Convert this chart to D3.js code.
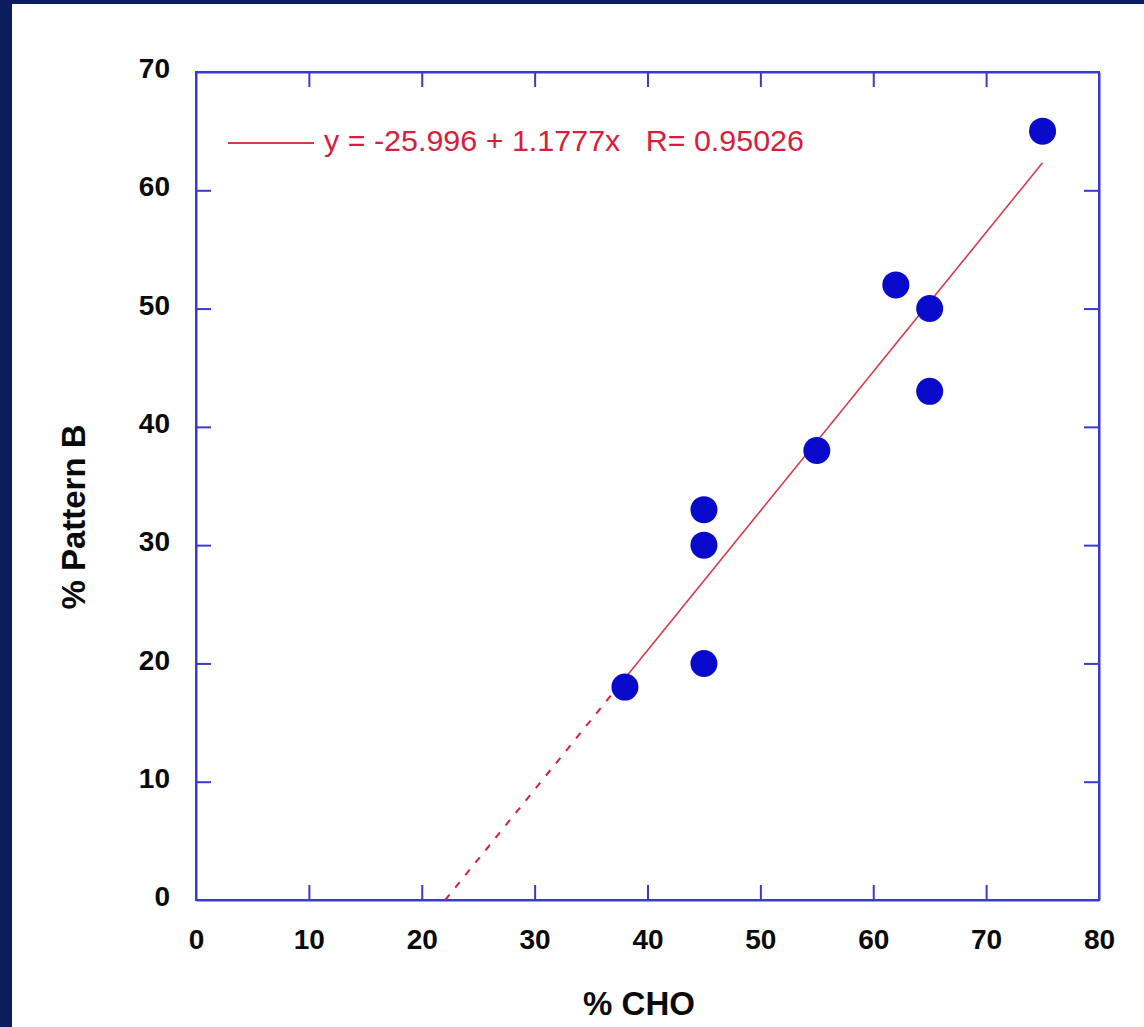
<!DOCTYPE html>
<html><head><meta charset="utf-8">
<script src="https://cdn.jsdelivr.net/npm/d3@7"></script>
<style>html,body{margin:0;padding:0;background:#fff;}svg{display:block;}</style>
</head><body>
<script>
const xVals = [38, 45, 45, 45, 55, 62, 65, 65, 75];
const yVals = [18, 20, 30, 33, 38, 52, 50, 43, 65];
const xTicks = [0, 10, 20, 30, 40, 50, 60, 70, 80];
const yTicks = [0, 10, 20, 30, 40, 50, 60, 70];
const intercept = -25.996, slope = 1.1777;
const fitSolid = [38, 75];
const legendText = "y = -25.996 + 1.1777x   R= 0.95026";
const xTitle = "% CHO", yTitle = "% Pattern B";

const W = 1144, H = 1027;
const svg = d3.select("body").append("svg").attr("width", W).attr("height", H);
svg.append("rect").attr("width", W).attr("height", H).attr("fill", "#fff");
svg.append("rect").attr("x", 0).attr("y", 0).attr("width", W).attr("height", 4).attr("fill", "#0b1d5e");
svg.append("rect").attr("x", 0).attr("y", 0).attr("width", 12).attr("height", H).attr("fill", "#0b1d5e");

const L = 196, R = 1099, T = 72, B = 900;
const x = d3.scaleLinear().domain([0, 80]).range([L, R]);
const y = d3.scaleLinear().domain([0, 70]).range([B, T]);
const frameColor = "#3a3ad0";
const font = "'Liberation Sans', Arial, sans-serif";

svg.append("rect").attr("x", L).attr("y", T).attr("width", R - L).attr("height", B - T)
  .attr("fill", "none").attr("stroke", frameColor).attr("stroke-width", 2);

const axB = svg.append("g").attr("transform", `translate(0,${B})`)
  .call(d3.axisBottom(x).tickValues(xTicks).tickSizeInner(-15).tickSizeOuter(0).tickPadding(29));
const axT = svg.append("g").attr("transform", `translate(0,${T})`)
  .call(d3.axisTop(x).tickValues(xTicks.slice(1, -1)).tickSizeInner(-15).tickSizeOuter(0).tickFormat(""));
const axLft = svg.append("g").attr("transform", `translate(${L},0)`)
  .call(d3.axisLeft(y).tickValues(yTicks).tickSizeInner(-15).tickSizeOuter(0).tickPadding(26));
const axRt = svg.append("g").attr("transform", `translate(${R},0)`)
  .call(d3.axisRight(y).tickValues(yTicks.slice(1, -1)).tickSizeInner(-15).tickSizeOuter(0).tickFormat(""));
[axB, axT, axLft, axRt].forEach(g => {
  g.select(".domain").attr("stroke", frameColor).attr("stroke-width", 2);
  g.selectAll(".tick line").attr("stroke", frameColor).attr("stroke-width", 2);
  g.selectAll(".tick text").attr("font-family", font).attr("font-weight", "bold")
    .attr("font-size", 28).attr("fill", "#0a0a0a");
});
axLft.selectAll(".tick text").attr("dy", "0.2em");
axB.selectAll(".tick").filter(d => d === 0 || d === 80).select("line").remove();
axLft.selectAll(".tick").filter(d => d === 0 || d === 70).select("line").remove();

const f = v => intercept + slope * v;
const x0 = -intercept / slope;
svg.append("line").attr("x1", x(x0)).attr("y1", y(0)).attr("x2", x(fitSolid[0])).attr("y2", y(f(fitSolid[0])))
  .attr("stroke", "#d8203a").attr("stroke-width", 2).attr("stroke-dasharray", "7,9");
svg.append("line").attr("x1", x(fitSolid[0])).attr("y1", y(f(fitSolid[0]))).attr("x2", x(fitSolid[1])).attr("y2", y(f(fitSolid[1])))
  .attr("stroke", "#d83a4a").attr("stroke-width", 1.6);

svg.append("g").selectAll("circle").data(xVals.map((v, i) => [v, yVals[i]])).join("circle")
  .attr("cx", d => x(d[0])).attr("cy", d => y(d[1])).attr("r", 13.5).attr("fill", "#0a0acc");

svg.append("line").attr("x1", 228).attr("x2", 314).attr("y1", 143).attr("y2", 143)
  .attr("stroke", "#d83a4a").attr("stroke-width", 2);
svg.append("text").attr("x", 324).attr("y", 151).attr("font-family", font).attr("font-size", 30)
  .attr("fill", "#d81e3c").attr("textLength", 480).attr("lengthAdjust", "spacingAndGlyphs")
  .style("white-space", "pre").text(legendText);

svg.append("text").attr("x", 639).attr("y", 1015).attr("text-anchor", "middle").attr("font-family", font)
  .attr("font-weight", "bold").attr("font-size", 33).attr("fill", "#0a0a0a").text(xTitle);
svg.append("text").attr("transform", "translate(85,517) rotate(-90)").attr("text-anchor", "middle").attr("font-family", font)
  .attr("font-weight", "bold").attr("font-size", 33).attr("fill", "#0a0a0a").text(yTitle);
</script>
</body></html>
